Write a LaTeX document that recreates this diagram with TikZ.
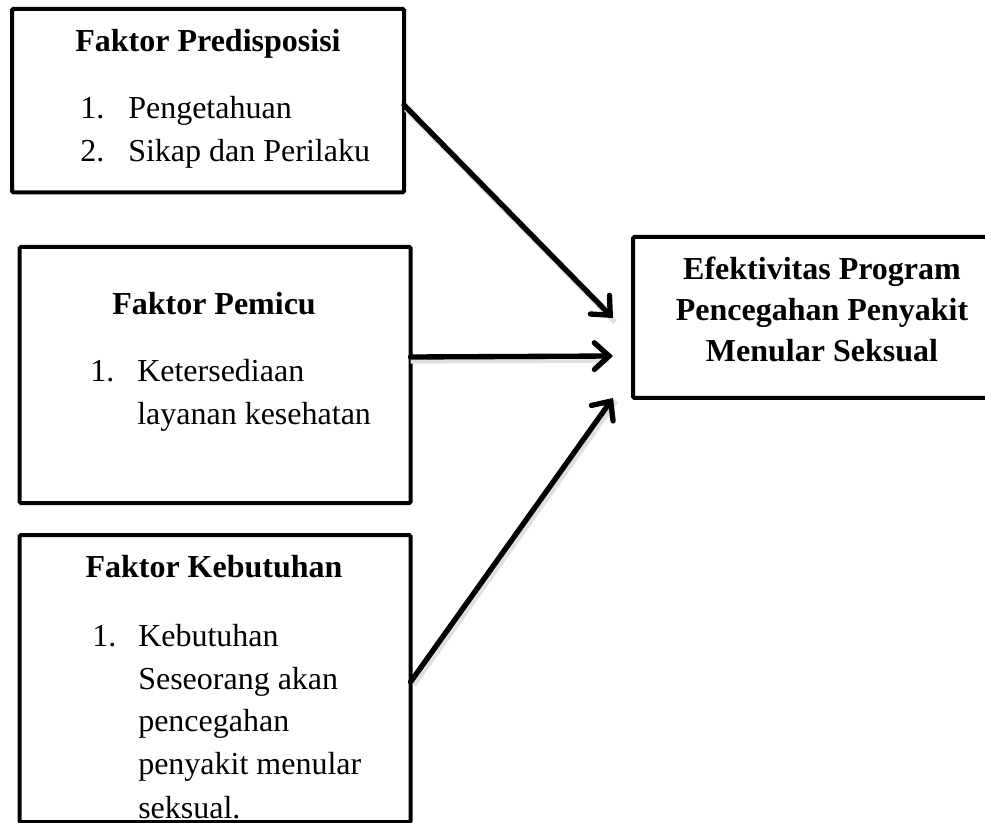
\documentclass[tikz,border=0pt]{standalone}
\usepackage{fontspec}
\setmainfont{Liberation Serif}
\usetikzlibrary{arrows.meta,fit}
\begin{document}
\begin{tikzpicture}[x=0.75pt,y=-0.75pt,
  box/.style={draw=black, line width=3pt, rounded corners=1pt, inner sep=0pt},
  txt/.style={anchor=base west, inner sep=0pt, font=\fontsize{24}{29}\selectfont},
  head/.style={anchor=base, inner sep=0pt, font=\fontsize{24}{29}\selectfont\bfseries},
  arr/.style={line width=4pt, line cap=round, -{Straight Barb[length=11pt,width=20pt,line cap=round]}},
  shadowline/.style={line width=4pt, black!12}
]
\useasboundingbox (0,0) rectangle (985,823);
\clip (0,0) rectangle (985,823);

% Box 1 texts
\node[head] (h1) at (208,52) {Faktor Predisposisi};
\node[txt] (n11) at (80,119) {1.};
\node[txt] (t11) at (128,119) {Pengetahuan};
\node[txt] (n12) at (80,162) {2.};
\node[txt] (t12) at (128,162) {Sikap dan Perilaku};

% Box 2 texts
\node[head] (h2) at (214,315) {Faktor Pemicu};
\node[txt] (n21) at (90,382) {1.};
\node[txt] (t21) at (137,382) {Ketersediaan};
\node[txt] (t22) at (137,425) {layanan kesehatan};

% Box 3 texts
\node[head] (h3) at (214,577) {Faktor Kebutuhan};
\node[txt] (n31) at (92,646) {1.};
\node[txt] (t31) at (138,646) {Kebutuhan};
\node[txt] (t32) at (138,689) {Seseorang akan};
\node[txt] (t33) at (138,731) {pencegahan};
\node[txt] (t34) at (138,774) {penyakit menular};
\node[txt] (t35) at (138,818) {seksual.};

% Box 4 texts
\node[head] (e1) at (822,280) {Efektivitas Program};
\node[head] (e2) at (822,321) {Pencegahan Penyakit};
\node[head] (e3) at (822,362) {Menular Seksual};

% Boxes
\node[box, fit={(12,9) (404,192.5)}] (b1) {};
\node[box, fit={(19.5,247) (410.5,503)}] (b2) {};
\node[box, fit={(19.5,535) (410.5,822)}] (b3) {};
\node[box, fit={(633,237) (1011,398)}] (b4) {};

% Connector end points
\coordinate (s1) at (404,105);
\coordinate (s2) at (410.5,357);
\coordinate (s3) at (410.5,682);
\coordinate (t1) at (613,318);
\coordinate (t2) at (613,356);
\coordinate (t3) at (613,398);

% soft shadows
\draw[shadowline] ([shift={(2,4)}]s1) -- ([shift={(2,4)}]t1);
\draw[shadowline] ([shift={(0,4)}]s2) -- ([shift={(-4,4)}]t2);
\draw[shadowline] ([shift={(3,3)}]s3) -- ([shift={(3,3)}]t3);

% Arrows
\draw[arr] (s1) -- (t1);
\draw[arr] (s2) -- (t2);
\draw[arr] (s3) -- (t3);
\end{tikzpicture}
\end{document}
